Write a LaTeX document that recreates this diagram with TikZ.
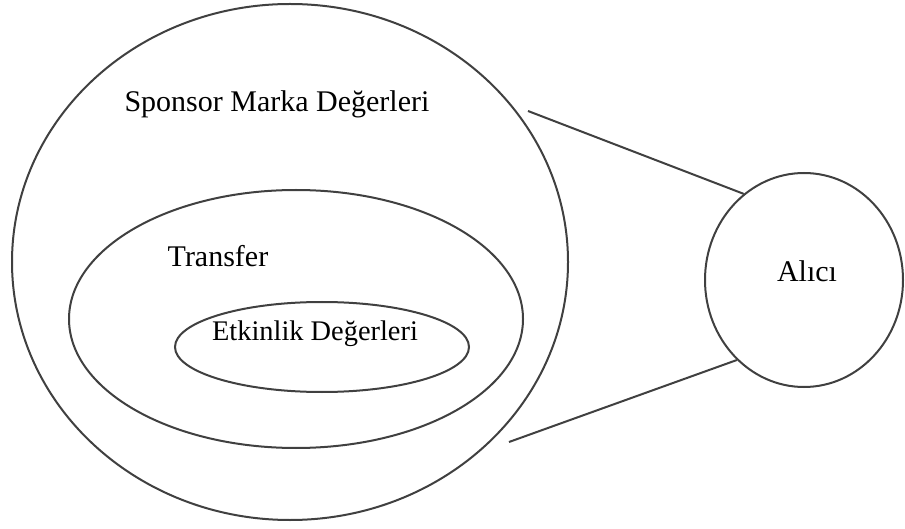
\documentclass[tikz,border=0pt]{standalone}
\usepackage{fontspec}
\setmainfont{Liberation Serif}
\usepackage{tikz}
\usetikzlibrary{shapes.geometric}

\begin{document}
\begin{tikzpicture}[x=0.5pt,y=-0.5pt,
  ring/.style={draw=black!75,line width=1pt,ellipse,inner sep=0pt},
  lbl/.style={font=\fontsize{15}{18}\selectfont,anchor=base,inner sep=0pt},
  link/.style={draw=black!75,line width=1pt}]
\useasboundingbox (0,0) rectangle (905,529);
\node[ring,minimum width=278pt,minimum height=258pt] (sponsor) at (290,262) {};
\node[ring,minimum width=227pt,minimum height=129pt] (transfer) at (296,319) {};
\node[ring,minimum width=147pt,minimum height=45pt] (etkinlik) at (322,347) {};
\node[ring,minimum width=99pt,minimum height=107pt] (alici) at (804,280) {};
\node[lbl] (sponsorlbl) at (277,112) {Sponsor Marka Değerleri};
\node[lbl] (transferlbl) at (218,267) {Transfer};
\node[lbl,font=\fontsize{14.2}{17}\selectfont] (etkinliklbl) at (315,341) {Etkinlik Değerleri};
\node[lbl] (alicilbl) at (807,282) {Alıcı};
\coordinate (ust) at (528,111);
\coordinate (alt) at (509,442);
\draw[link] (ust) -- (alici.125);
\draw[link] (alt) -- (alici.230);
\end{tikzpicture}
\end{document}
